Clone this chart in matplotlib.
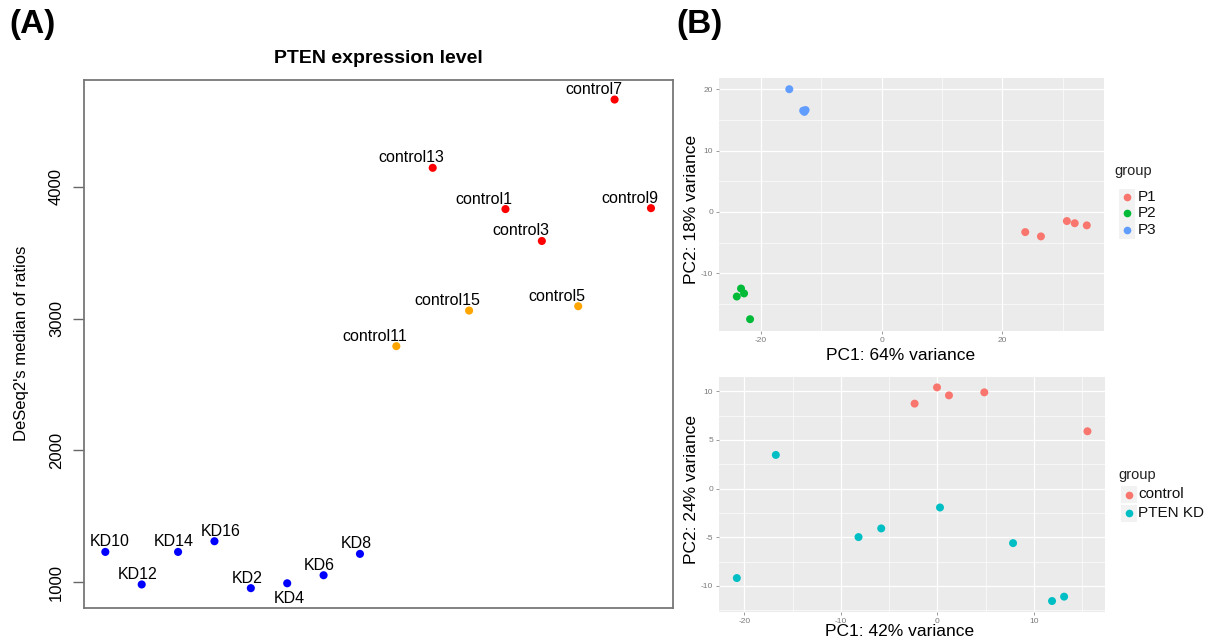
import matplotlib
matplotlib.use("Agg")
import matplotlib.pyplot as plt
from matplotlib.patches import Rectangle
from matplotlib.lines import Line2D
from matplotlib.ticker import MultipleLocator

plt.rcParams['font.family'] = ['Liberation Sans', 'DejaVu Sans']
plt.rcParams['axes.unicode_minus'] = False

# ---------------- Data: panel A ----------------
samples = ["KD10", "KD12", "KD14", "KD16", "KD2", "KD4", "KD6", "KD8",
           "control11", "control13", "control15", "control1", "control3",
           "control5", "control7", "control9"]
pten_values = [1230, 983, 1230, 1311, 955, 992, 1053, 1215,
               2791, 4144, 3061, 3831, 3589, 3094, 4662, 3838]
sample_class = ["KD"] * 8 + ["low", "high", "low", "high", "high", "low", "high", "high"]
class_colors = {"KD": "#0000FF", "low": "#FFA500", "high": "#FF0000"}
# label placement (pixel offsets of label centre from point; below=True puts label under)
label_dx = [4, -4, -4, 6, -4, 2, -4, -4, -22, -21, -22, -22, -21, -21, -21, -21]
label_below = [False] * 5 + [True] + [False] * 10

# ---------------- Data: panel B top ----------------
p1_x = [23.8, 26.4, 30.7, 32.0, 34.0]
p1_y = [-3.3, -4.0, -1.5, -1.85, -2.2]
p2_x = [-23.3, -22.8, -24.0, -21.8]
p2_y = [-12.5, -13.3, -13.8, -17.5]
p3_x = [-15.3, -13.0, -12.6, -12.8]
p3_y = [20.0, 16.5, 16.6, 16.3]
top_groups = ["P1", "P2", "P3"]
top_colors = ["#F8766D", "#00BA38", "#619CFF"]

# ---------------- Data: panel B bottom ----------------
ctrl_x = [-2.35, -0.03, 1.21, 4.87, 15.56]
ctrl_y = [8.72, 10.39, 9.57, 9.88, 5.88]
kd_x = [-16.73, 0.28, -5.81, -8.16, 7.85, -20.77, 11.89, 13.14]
kd_y = [3.45, -1.95, -4.10, -4.99, -5.61, -9.20, -11.56, -11.11]
bot_groups = ["control", "PTEN KD"]
bot_colors = ["#F8766D", "#00BFC4"]

W, H = 1208, 643
fig = plt.figure(figsize=(W / 100, H / 100), dpi=100)


def fx(x):
    return x / W


def fy(y):
    return 1 - y / H


def ax_rect(left, top, right, bottom):
    return [left / W, 1 - bottom / H, (right - left) / W, (bottom - top) / H]


# ================= Panel A =================
axA = fig.add_axes(ax_rect(83.5, 80, 672.8, 607.7))
xs = list(range(1, len(samples) + 1))
cols = [class_colors[c] for c in sample_class]
axA.scatter(xs, pten_values, s=34, c=cols, edgecolors='none', zorder=3)
for i, (name, x, y) in enumerate(zip(samples, xs, pten_values)):
    if label_below[i]:
        axA.annotate(name, (x, y), xytext=(label_dx[i] * 0.72, -8 * 0.72),
                     textcoords='offset points', ha='center', va='top', fontsize=11.5)
    else:
        axA.annotate(name, (x, y), xytext=(label_dx[i] * 0.72, 5.5 * 0.72),
                     textcoords='offset points', ha='center', va='baseline', fontsize=11.5)
xr = max(xs) - min(xs)
axA.set_xlim(min(xs) - 0.04 * xr, max(xs) + 0.04 * xr)
yr = max(pten_values) - min(pten_values)
axA.set_ylim(min(pten_values) - 0.04 * yr, max(pten_values) + 0.04 * yr)
axA.set_xticks([])
axA.set_yticks([1000, 2000, 3000, 4000])
axA.tick_params(axis='y', length=8, width=1, color='#666666', pad=6, labelsize=12)
for lab in axA.get_yticklabels():
    lab.set_rotation(90)
    lab.set_va('center')
for sp in axA.spines.values():
    sp.set_color('#777777')
    sp.set_linewidth(1.3)
fig.text(fx(22), fy(343), "DeSeq2's median of ratios", rotation=90,
         ha='center', va='center', fontsize=12)
fig.text(fx(378), fy(63), "PTEN expression level", ha='center', va='baseline',
         fontsize=14, fontweight='bold')

fig.text(fx(9), fy(9), "(A)", ha='left', va='top', fontsize=24, fontweight='bold')
fig.text(fx(676), fy(9), "(B)", ha='left', va='top', fontsize=24, fontweight='bold')


# ================= ggplot style helper =================
def gg_style(ax, xmaj, ymaj, allx, ally):
    ax.set_facecolor('#EBEBEB')
    for sp in ax.spines.values():
        sp.set_visible(False)
    ax.xaxis.set_major_locator(MultipleLocator(xmaj))
    ax.xaxis.set_minor_locator(MultipleLocator(xmaj / 2))
    ax.yaxis.set_major_locator(MultipleLocator(ymaj))
    ax.yaxis.set_minor_locator(MultipleLocator(ymaj / 2))
    ax.grid(which='major', color='white', linewidth=0.9)
    ax.grid(which='minor', color='white', linewidth=0.45)
    ax.set_axisbelow(True)
    ax.tick_params(which='major', length=2.5, width=0.6, color='#8A8A8A',
                   labelsize=6, labelcolor='#7A7A7A', pad=2)
    ax.tick_params(which='minor', length=0)
    xr = max(allx) - min(allx)
    yr = max(ally) - min(ally)
    ax.set_xlim(min(allx) - 0.05 * xr, max(allx) + 0.05 * xr)
    ax.set_ylim(min(ally) - 0.05 * yr, max(ally) + 0.05 * yr)


# ================= Panel B top =================
axT = fig.add_axes(ax_rect(719.3, 77.7, 1104.3, 330.7))
for gx, gy, c in zip([p1_x, p2_x, p3_x], [p1_y, p2_y, p3_y], top_colors):
    axT.scatter(gx, gy, s=33, color=c, edgecolors='none', zorder=3)
gg_style(axT, 20, 10, p1_x + p2_x + p3_x, p1_y + p2_y + p3_y)
fig.text(fx(901), fy(355.5), "PC1: 64% variance", ha='center', va='center', fontsize=12.5)
fig.text(fx(691.5), fy(209.5), "PC2: 18% variance", ha='center', va='center',
         rotation=90, fontsize=12.5)

# ================= Panel B bottom =================
axBt = fig.add_axes(ax_rect(719.3, 376.7, 1105, 611.7))
for gx, gy, c in zip([ctrl_x, kd_x], [ctrl_y, kd_y], bot_colors):
    axBt.scatter(gx, gy, s=33, color=c, edgecolors='none', zorder=3)
gg_style(axBt, 10, 5, ctrl_x + kd_x, ctrl_y + kd_y)
fig.text(fx(900), fy(631), "PC1: 42% variance", ha='center', va='center', fontsize=12.5)
fig.text(fx(692), fy(489), "PC2: 24% variance", ha='center', va='center',
         rotation=90, fontsize=12.5)


# ================= Legends =================
def draw_legend(title, title_xy, labels, colors, key_x, key_y0, step, text_x):
    fig.text(fx(title_xy[0]), fy(title_xy[1]), title, ha='left', va='baseline',
             fontsize=10.5, color='#222222')
    for i, (lab, c) in enumerate(zip(labels, colors)):
        cy = key_y0 + i * step
        fig.add_artist(Rectangle((fx(key_x - 8), fy(cy + 8.5)), 16 / W, 17 / H,
                                 transform=fig.transFigure, facecolor='#F2F2F2',
                                 edgecolor='none'))
        fig.add_artist(Line2D([fx(key_x)], [fy(cy)], marker='o', markersize=5.5,
                              color=c, markeredgewidth=0, linestyle='none',
                              transform=fig.transFigure))
        fig.text(fx(text_x), fy(cy), lab, ha='left', va='center', fontsize=11,
                 color='#111111')


draw_legend("group", (1114, 175), top_groups, top_colors, 1127, 197, 16.5, 1138)
draw_legend("group", (1118, 478.5), bot_groups, bot_colors, 1129, 494.5, 18.5, 1138)

fig.savefig("out.png", dpi=100)
